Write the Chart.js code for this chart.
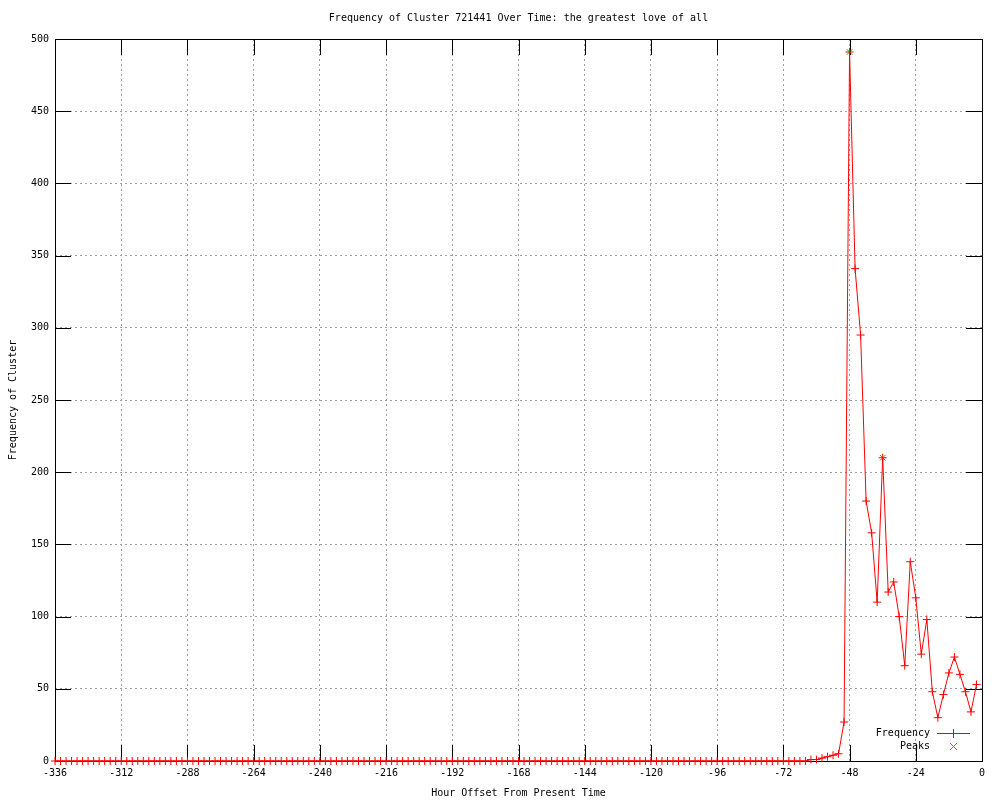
<!DOCTYPE html>
<html>
<head>
<meta charset="utf-8">
<script src="https://cdn.jsdelivr.net/npm/chart.js@4/dist/chart.umd.min.js"></script>
<style>
  html, body { margin: 0; padding: 0; background: #fff; }
  canvas { display: block; }
</style>
</head>
<body>
<canvas id="chart" width="1000" height="800"></canvas>
<script>
const FONT = "'DejaVu Sans Mono', 'Liberation Mono', monospace";

const chartTitle = "Frequency of Cluster 721441 Over Time: the greatest love of all";

// hour offsets, one point every two hours
const hours = [
  -336, -334, -332, -330, -328, -326, -324, -322, -320, -318, -316, -314,
  -312, -310, -308, -306, -304, -302, -300, -298, -296, -294, -292, -290,
  -288, -286, -284, -282, -280, -278, -276, -274, -272, -270, -268, -266,
  -264, -262, -260, -258, -256, -254, -252, -250, -248, -246, -244, -242,
  -240, -238, -236, -234, -232, -230, -228, -226, -224, -222, -220, -218,
  -216, -214, -212, -210, -208, -206, -204, -202, -200, -198, -196, -194,
  -192, -190, -188, -186, -184, -182, -180, -178, -176, -174, -172, -170,
  -168, -166, -164, -162, -160, -158, -156, -154, -152, -150, -148, -146,
  -144, -142, -140, -138, -136, -134, -132, -130, -128, -126, -124, -122,
  -120, -118, -116, -114, -112, -110, -108, -106, -104, -102, -100, -98,
  -96, -94, -92, -90, -88, -86, -84, -82, -80, -78, -76, -74,
  -72, -70, -68, -66, -64, -62, -60, -58, -56, -54, -52, -50,
  -48, -46, -44, -42, -40, -38, -36, -34, -32, -30, -28, -26,
  -24, -22, -20, -18, -16, -14, -12, -10, -8, -6, -4, -2
];

const frequency = [
  0, 0, 0, 0, 0, 0, 0, 0, 0, 0, 0, 0,
  0, 0, 0, 0, 0, 0, 0, 0, 0, 0, 0, 0,
  0, 0, 0, 0, 0, 0, 0, 0, 0, 0, 0, 0,
  0, 0, 0, 0, 0, 0, 0, 0, 0, 0, 0, 0,
  0, 0, 0, 0, 0, 0, 0, 0, 0, 0, 0, 0,
  0, 0, 0, 0, 0, 0, 0, 0, 0, 0, 0, 0,
  0, 0, 0, 0, 0, 0, 0, 0, 0, 0, 0, 0,
  0, 0, 0, 0, 0, 0, 0, 0, 0, 0, 0, 0,
  0, 0, 0, 0, 0, 0, 0, 0, 0, 0, 0, 0,
  0, 0, 0, 0, 0, 0, 0, 0, 0, 0, 0, 0,
  0, 0, 0, 0, 0, 0, 0, 0, 0, 0, 0, 0,
  0, 0, 0, 0, 0, 1, 1, 2, 3, 4, 5, 27,
  491, 341, 295, 180, 158, 110, 210, 117, 124, 100, 66, 138,
  113, 74, 98, 48, 30, 46, 61, 72, 60, 48, 34, 53
];

const peakHours = [-48, -36];
const peakValues = [491, 210];

const xTicks = [-336, -312, -288, -264, -240, -216, -192, -168, -144, -120, -96, -72, -48, -24, 0];
const yTicks = [0, 50, 100, 150, 200, 250, 300, 350, 400, 450, 500];

const RED = "#ff0000";
const GREEN = "#00c000";

// gnuplot style: closed frame with inward tick marks, title over the plot, key inside
const framePlugin = {
  id: "gnuplotFrame",
  beforeDatasetsDraw(chart) {
    const { ctx, chartArea: a, scales } = chart;
    const len = 16;
    ctx.save();
    ctx.setLineDash([]);
    ctx.strokeStyle = "#000";
    ctx.lineWidth = 1;
    ctx.beginPath();
    xTicks.forEach((t) => {
      const px = Math.round(scales.x.getPixelForValue(t)) + 0.5;
      ctx.moveTo(px, a.bottom);
      ctx.lineTo(px, a.bottom - len);
      ctx.moveTo(px, a.top);
      ctx.lineTo(px, a.top + len);
    });
    yTicks.forEach((t) => {
      const py = Math.round(scales.y.getPixelForValue(t)) + 0.5;
      ctx.moveTo(a.left, py);
      ctx.lineTo(a.left + len, py);
      ctx.moveTo(a.right, py);
      ctx.lineTo(a.right - len, py);
    });
    ctx.stroke();
    ctx.strokeRect(Math.round(a.left) + 0.5, Math.round(a.top) + 0.5,
      Math.round(a.right - a.left), Math.round(a.bottom - a.top));
    ctx.restore();
  },
  afterDatasetsDraw(chart) {
    const { ctx, chartArea: a } = chart;
    ctx.save();
    ctx.font = "10px " + FONT;
    ctx.fillStyle = "#000";
    ctx.textBaseline = "middle";

    // title, centred over the plot area
    ctx.textAlign = "center";
    ctx.fillText(chartTitle, (a.left + a.right) / 2, 18);

    // key
    const textRight = 930;
    const sx = 953;
    const rows = [733, 746];
    ctx.textAlign = "right";
    ctx.fillText(chart.data.datasets[0].label, textRight, rows[0]);
    ctx.fillText(chart.data.datasets[1].label, textRight, rows[1]);

    // key samples drawn as pixel runs
    ctx.fillStyle = RED;
    ctx.fillRect(937, rows[0], 33, 1);
    ctx.fillRect(sx, rows[0] - 4, 1, 9);

    ctx.fillStyle = GREEN;
    for (let d = -3; d <= 3; d++) {
      ctx.fillRect(sx + d, rows[1] + d, 1, 1);
      ctx.fillRect(sx + d, rows[1] - d, 1, 1);
    }
    ctx.restore();
  },
};

const tickFont = { family: FONT, size: 10 };

new Chart(document.getElementById("chart"), {
  type: "line",
  data: {
    datasets: [
      {
        label: "Frequency",
        data: hours.map((h, i) => ({ x: h, y: frequency[i] })),
        borderColor: RED,
        borderWidth: 1,
        tension: 0,
        pointStyle: "cross",
        pointRadius: 4,
        pointBorderColor: RED,
        pointBorderWidth: 1,
        clip: false,
      },
      {
        label: "Peaks",
        data: peakHours.map((h, i) => ({ x: h, y: peakValues[i] })),
        showLine: false,
        borderColor: GREEN,
        pointStyle: "crossRot",
        pointRadius: 4,
        pointBorderColor: GREEN,
        pointBorderWidth: 1,
        clip: false,
      },
    ],
  },
  options: {
    responsive: false,
    animation: false,
    devicePixelRatio: 1,
    layout: { padding: { left: 0, right: 18, top: 39, bottom: 0 } },
    plugins: {
      legend: { display: false },
      tooltip: { enabled: false },
      title: { display: false },
    },
    scales: {
      x: {
        type: "linear",
        min: -336,
        max: 0,
        afterBuildTicks(scale) {
          scale.ticks = xTicks.map((v) => ({ value: v }));
        },
        afterFit(scale) {
          scale.height = 39;
        },
        ticks: {
          color: "#000",
          font: tickFont,
          padding: 6,
          maxRotation: 0,
          autoSkip: false,
          callback: (v) => String(v),
        },
        grid: { color: "#a0a0a0", lineWidth: 1, drawTicks: false },
        border: { display: false, dash: [2, 3] },
        title: {
          display: true,
          text: "Hour Offset From Present Time",
          color: "#000",
          font: tickFont,
          padding: { top: 0, bottom: 1 },
        },
      },
      y: {
        min: 0,
        max: 500,
        afterBuildTicks(scale) {
          scale.ticks = yTicks.map((v) => ({ value: v }));
        },
        afterFit(scale) {
          scale.width = 55;
        },
        ticks: {
          color: "#000",
          font: tickFont,
          padding: 6,
          callback: (v) => String(v),
        },
        grid: { color: "#a0a0a0", lineWidth: 1, drawTicks: false },
        border: { display: false, dash: [2, 3] },
        title: {
          display: true,
          text: "Frequency of Cluster",
          color: "#000",
          font: tickFont,
          padding: { top: 7, bottom: 0 },
        },
      },
    },
  },
  plugins: [framePlugin],
});
</script>
</body>
</html>
